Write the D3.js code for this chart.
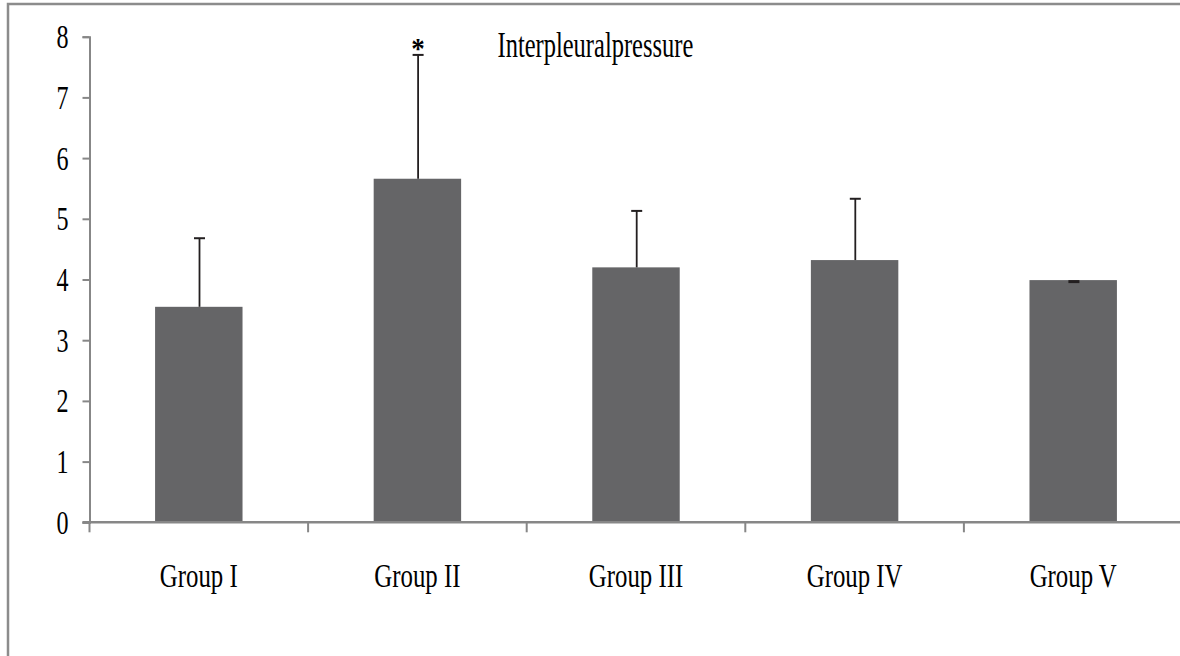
<!DOCTYPE html>
<html>
<head>
<meta charset="utf-8">
<script src="https://cdn.jsdelivr.net/npm/d3@7"></script>
<style>
  html, body { margin: 0; padding: 0; background: #fff; }
  svg { display: block; }
  text { font-family: "Liberation Serif", "Times New Roman", serif; fill: #000; }
</style>
</head>
<body>
<svg id="chart" width="1180" height="656"></svg>
<script>
// Interpleural pressure by group: mean with upper SD whisker
const groups = ["Group I", "Group II", "Group III", "Group IV", "Group V"];
const means = [3.55, 5.66, 4.20, 4.32, 3.99];
const sds = [1.13, 2.04, 0.93, 1.01, 0.0];
const significant = [false, true, false, false, false];
const yTicks = [0, 1, 2, 3, 4, 5, 6, 7, 8];
const title = "Interpleuralpressure";

const svg = d3.select("#chart");
const W = 1180, H = 656;
const squeeze = 0.73; // horizontal compression of the serif text

svg.append("rect").attr("width", W).attr("height", H).attr("fill", "#fff");

// frame (runs off the right and bottom edges)
svg.append("rect")
  .attr("x", 8).attr("y", 4)
  .attr("width", 1300).attr("height", 800)
  .attr("fill", "none").attr("stroke", "#8c8c8c").attr("stroke-width", 2.5);

const plot = { left: 89.5, top: 36.7, bottom: 522.3 };

const y = d3.scaleLinear().domain([0, 8]).range([plot.bottom, plot.top]);
const x = d3.scaleBand().domain(groups)
  .range([plot.left, plot.left + 5 * 218.6])
  .paddingInner(0.6).paddingOuter(0.3);

const axisColor = "#878787";

// y axis
const yAxis = svg.append("g")
  .attr("transform", `translate(${plot.left},0)`)
  .call(d3.axisLeft(y).tickValues(yTicks).tickSize(7).tickPadding(0).tickFormat(d3.format("d")));
yAxis.select(".domain").attr("stroke", axisColor).attr("stroke-width", 2);
yAxis.selectAll(".tick line").attr("stroke", axisColor).attr("stroke-width", 2);
yAxis.selectAll(".tick text")
  .attr("x", null).attr("dy", null)
  .attr("text-anchor", "end")
  .attr("font-size", 33)
  .attr("transform", `translate(-21,11) scale(${squeeze},1)`);

// bars
svg.append("g").selectAll("rect")
  .data(groups)
  .join("rect")
  .attr("x", d => x(d))
  .attr("width", x.bandwidth())
  .attr("y", (d, i) => y(means[i]))
  .attr("height", (d, i) => y(0) - y(means[i]))
  .attr("fill", "#656567");

// x axis: line at zero, ticks on category boundaries
const xLine = svg.append("g");
xLine.append("line")
  .attr("x1", plot.left - 7).attr("x2", W + 5)
  .attr("y1", y(0)).attr("y2", y(0))
  .attr("stroke", axisColor).attr("stroke-width", 2.5);
const step = x.step();
const boundaries = d3.range(groups.length + 1).map(i => plot.left + i * step);
xLine.selectAll("line.tk")
  .data(boundaries)
  .join("line")
  .attr("class", "tk")
  .attr("x1", d => d).attr("x2", d => d)
  .attr("y1", y(0)).attr("y2", y(0) + 10)
  .attr("stroke", axisColor).attr("stroke-width", 2);

// category labels
svg.append("g").selectAll("text")
  .data(groups)
  .join("text")
  .attr("text-anchor", "middle")
  .attr("font-size", 34)
  .attr("transform", d => `translate(${x(d) + x.bandwidth() / 2},587) scale(${squeeze},1)`)
  .text(d => d);

// error whiskers (upper only)
const eb = svg.append("g").attr("stroke", "#231f20");
groups.forEach((g, i) => {
  const cx = x(g) + x.bandwidth() / 2 + 0.7;
  const top = y(means[i] + sds[i]);
  if (sds[i] > 0) {
    eb.append("line")
      .attr("x1", cx).attr("x2", cx)
      .attr("y1", y(means[i])).attr("y2", top)
      .attr("stroke-width", 1.8);
  }
  eb.append("line")
    .attr("x1", cx - 5.5).attr("x2", cx + 5.5)
    .attr("y1", top + (sds[i] > 0 ? 0 : 1.5)).attr("y2", top + (sds[i] > 0 ? 0 : 1.5))
    .attr("stroke-width", sds[i] > 0 ? 2 : 3);
  if (significant[i]) {
    svg.append("text")
      .attr("text-anchor", "middle")
      .attr("font-size", 30)
      .attr("font-weight", "bold")
      .attr("transform", `translate(${cx},${top + 3}) scale(0.9,1)`)
      .text("*");
  }
});

// title
svg.append("text")
  .attr("font-size", 35)
  .attr("transform", `translate(497.5,56.5) scale(${0.7},1)`)
  .text(title);
</script>
</body>
</html>
